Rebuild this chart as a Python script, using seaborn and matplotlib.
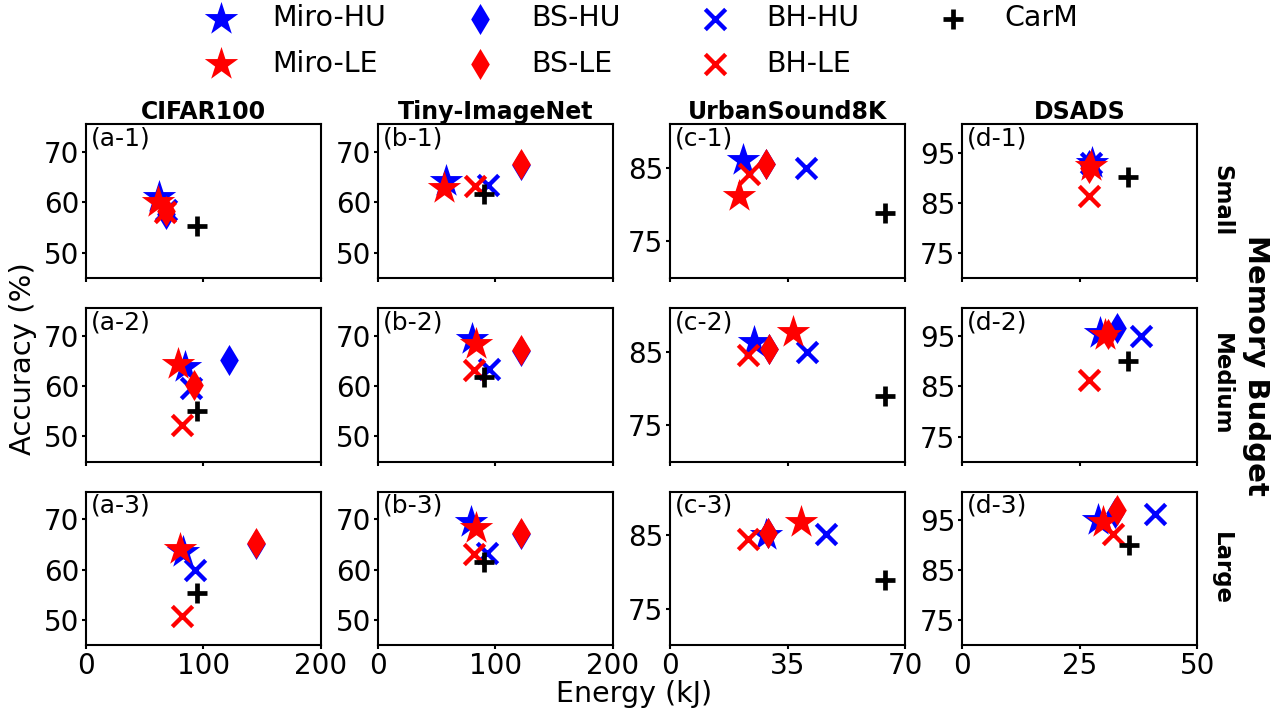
import pandas as pd
import seaborn as sns
import matplotlib
matplotlib.use('Agg')
import matplotlib.pyplot as plt


# DADOS (ordem: a-1, a-2, a-3, b-1, b-2, b-3, c-1, c-2, c-3, d-1, d-2, d-3)
datasets = ['CIFAR100', 'Tiny-ImageNet', 'UrbanSound8K', 'DSADS']
budgets = ['Small', 'Medium', 'Large']
letras = ['a', 'b', 'c', 'd']

miro_hu_energia = [62, 84, 83, 58, 80, 79, 21.6, 24.9, 28.5, 27.6, 29.4, 28.9]
miro_hu_acc = [61.0, 63.8, 63.5, 64.2, 69.3, 69.4, 86.1, 86.3, 85.1, 93.0, 95.7, 95.0]

miro_le_energia = [61, 78, 80, 56, 83.5, 83.5, 20.6, 36.7, 39.1, 27.3, 30.4, 30.0]
miro_le_acc = [60.0, 64.4, 64.2, 62.8, 68.3, 68.3, 81.2, 87.7, 86.8, 92.3, 95.3, 94.7]

bs_hu_energia = [68, 121.5, 145, 122, 122, 122, 28.7, 29.6, 29.1, 27.0, 32.9, 32.5]
bs_hu_acc = [57.7, 65.2, 65.0, 67.3, 67.0, 67.0, 85.5, 85.4, 85.3, 92.5, 96.7, 96.5]

bs_le_energia = [68, 92, 145, 122, 122, 122, 28.7, 29.6, 29.1, 27.0, 31.0, 32.9]
bs_le_acc = [58.2, 60.1, 65.2, 67.6, 67.2, 67.2, 85.5, 85.4, 85.4, 92.0, 95.5, 97.0]

bh_hu_energia = [68, 89.5, 93, 94, 94.4, 92.8, 40.6, 40.8, 46.5, 27.5, 38.0, 41.0]
bh_hu_acc = [58.5, 59.5, 59.9, 63.5, 63.4, 63.4, 85.0, 85.0, 85.2, 93.0, 95.0, 96.3]

bh_le_energia = [67.5, 81.8, 81.8, 82.2, 81.6, 81.6, 23.5, 23.2, 23.2, 27.0, 27.0, 32.1]
bh_le_acc = [58.1, 52.2, 50.8, 63.3, 63.1, 63.2, 84.2, 84.5, 84.5, 86.3, 86.3, 92.3]

carm_energia = [94.7, 94.7, 94.7, 89.8, 89.8, 89.8, 64, 64, 64, 35.2, 35.3, 35.5]
carm_acc = [55.3, 55.0, 55.4, 61.7, 61.8, 61.6, 78.8, 79.0, 78.9, 90.2, 90.0, 90.1]

# MONTANDO O DATAFRAME
series = {
    'Miro-HU': (miro_hu_energia, miro_hu_acc),
    'Miro-LE': (miro_le_energia, miro_le_acc),
    'BS-HU': (bs_hu_energia, bs_hu_acc),
    'BS-LE': (bs_le_energia, bs_le_acc),
    'BH-HU': (bh_hu_energia, bh_hu_acc),
    'BH-LE': (bh_le_energia, bh_le_acc),
    'CarM': (carm_energia, carm_acc),
}
linhas = []
for metodo, (energia, acc) in series.items():
    i = 0
    for ds in datasets:
        for b in budgets:
            linhas.append([metodo, ds, b, energia[i], acc[i]])
            i += 1
dados = pd.DataFrame(linhas, columns=['Metodo', 'Dataset', 'Budget', 'Energia', 'Acuracia'])

# ESTILO DOS MARCADORES (ordem de desenho)
estilos = {
    'Miro-HU': ('blue', '*', 640, 0),
    'BS-HU': ('blue', 'd', 250, 0),
    'BH-HU': ('blue', 'x', 215, 3.1),
    'Miro-LE': ('red', '*', 640, 0),
    'BS-LE': ('red', 'd', 250, 0),
    'BH-LE': ('red', 'x', 215, 3.1),
    'CarM': ('black', '+', 220, 3.4),
}
ordem_legenda = ['Miro-HU', 'Miro-LE', 'BS-HU', 'BS-LE', 'BH-HU', 'BH-LE', 'CarM']

xlims = [(0, 200), (0, 200), (0, 70), (0, 50)]
xticks = [[0, 100, 200], [0, 100, 200], [0, 35, 70], [0, 25, 50]]
ylims = [(45, 75.5), (45, 75.5), (70, 91), (70, 100.7)]
yticks = [[50, 60, 70], [50, 60, 70], [75, 85], [75, 85, 95]]

sns.set_theme(style='ticks')
plt.rcParams['font.family'] = ['DejaVu Sans']
plt.rcParams['axes.edgecolor'] = 'black'
plt.rcParams['axes.linewidth'] = 1.5
plt.rcParams['text.color'] = 'black'
plt.rcParams['axes.labelcolor'] = 'black'
plt.rcParams['xtick.color'] = 'black'
plt.rcParams['ytick.color'] = 'black'

fig, axes = plt.subplots(3, 4, figsize=(12.79, 7.17), dpi=100)
plt.subplots_adjust(left=0.0672, right=0.936, top=0.827, bottom=0.100, wspace=0.244, hspace=0.195)

handles = {}
for j, ds in enumerate(datasets):
    for i, b in enumerate(budgets):
        ax = axes[i, j]
        for metodo, (cor, marcador, tamanho, lw) in estilos.items():
            sub = dados[(dados.Metodo == metodo) & (dados.Dataset == ds) & (dados.Budget == b)]
            if lw == 0:
                sns.scatterplot(data=sub, x='Energia', y='Acuracia', color=cor, marker=marcador,
                                s=tamanho, edgecolor=cor, linewidth=0, ax=ax, label=metodo, legend=False)
            else:
                sns.scatterplot(data=sub, x='Energia', y='Acuracia', color=cor, marker=marcador,
                                s=tamanho, linewidth=lw, ax=ax, label=metodo, legend=False)
        h, l = ax.get_legend_handles_labels()
        for hh, ll in zip(h, l):
            handles[ll] = hh
        ax.set_xticks(xticks[j])
        ax.set_yticks(yticks[j])
        ax.set_xlim(xlims[j])
        ax.set_ylim(ylims[j])
        ax.set_xlabel('')
        ax.set_ylabel('')
        ax.tick_params(labelsize=20, length=3, width=1.5, pad=2, colors='black')
        if i < 2:
            ax.set_xticklabels([])
        ax.text(0.02, 0.985, '(%s-%d)' % (letras[j], i + 1), transform=ax.transAxes,
                ha='left', va='top', fontsize=18)
        for sp in ax.spines.values():
            sp.set_linewidth(1.5)
            sp.set_color('black')
    axes[0, j].set_title(ds, fontsize=17, fontweight='bold', pad=3)

# RÓTULOS DAS LINHAS
for i, b in enumerate(budgets):
    pos = axes[i, 3].get_position()
    fig.text(0.955, (pos.y0 + pos.y1) / 2, b, rotation=270, ha='center', va='center',
             fontsize=16.5, fontweight='bold')

fig.text(0.982, 0.49, 'Memory Budget', rotation=270, ha='center', va='center',
         fontsize=21, fontweight='bold')
fig.text(0.018, 0.50, 'Accuracy (%)', rotation=90, ha='center', va='center', fontsize=21)
fig.text(0.496, 0.032, 'Energy (kJ)', ha='center', va='center', fontsize=20.5)

# LEGENDA
fig.legend([handles[m] for m in ordem_legenda], ordem_legenda, loc='upper center',
           bbox_to_anchor=(0.497, 1.03), ncol=4, frameon=False, fontsize=20.5,
           columnspacing=2.3, handletextpad=0.8, labelspacing=0.62, scatterpoints=1)

fig.savefig('out.png', dpi=100)
